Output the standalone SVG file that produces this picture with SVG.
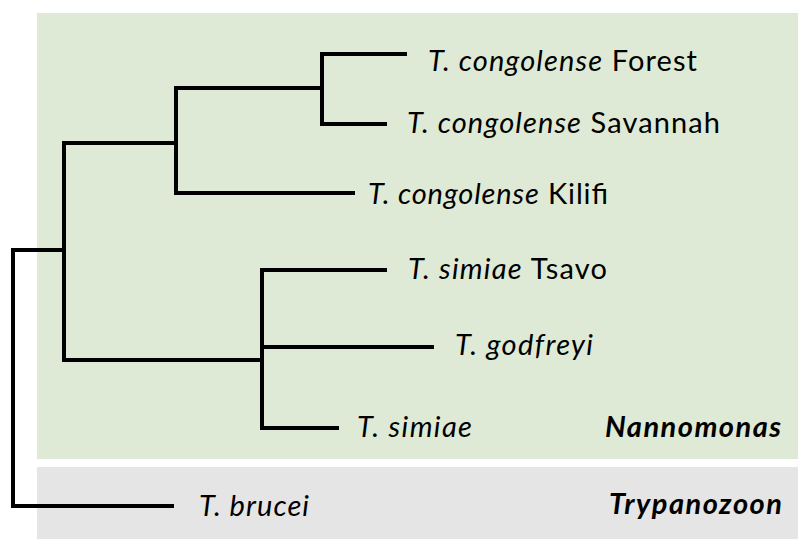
<svg xmlns="http://www.w3.org/2000/svg" width="798" height="539" viewBox="0 0 798 539">
<style>
.br{fill:none;stroke:#000;stroke-width:4;stroke-linecap:square;stroke-linejoin:miter}
.lab{font-family:Lato,"Liberation Sans",sans-serif;font-size:29px;fill:#000}
.it{font-style:italic}
.grp{font-family:Lato,"Liberation Sans",sans-serif;font-size:29px;font-weight:bold;font-style:italic;fill:#000}
</style>
<rect id="nannomonas-bg" x="37" y="13" width="761" height="446" fill="#DEEAD5"/>
<rect id="trypanozoon-bg" x="37" y="467" width="761" height="72" fill="#E5E5E5"/>
<g id="connectors">
<path class="br" d="M172,506 H13 V250 H64"/>
<path class="br" d="M176,143 H64 V360 H262"/>
<path class="br" d="M322,88 H176 V193 H353"/>
<path class="br" d="M405,54 H322 V124 H385"/>
<path class="br" d="M385,270 H262 V428 H337"/>
<path class="br" d="M262,347 H432"/>
</g>
<g id="forest"><text class="lab" x="428" y="71" textLength="269" lengthAdjust="spacing"><tspan class="it">T. congolense</tspan> Forest</text></g>
<g id="savannah"><text class="lab" x="407" y="133" textLength="313" lengthAdjust="spacing"><tspan class="it">T. congolense</tspan> Savannah</text></g>
<g id="kilifi"><text class="lab" x="368" y="204" textLength="240" lengthAdjust="spacing"><tspan class="it">T. congolense</tspan> Kilifi</text></g>
<g id="tsavo"><text class="lab" x="408" y="279" textLength="199" lengthAdjust="spacing"><tspan class="it">T. simiae</tspan> Tsavo</text></g>
<g id="godfreyi"><text class="lab it" x="455" y="355" textLength="138" lengthAdjust="spacing">T. godfreyi</text></g>
<g id="simiae"><text class="lab it" x="357" y="437" textLength="115" lengthAdjust="spacing">T. simiae</text></g>
<g id="brucei"><text class="lab it" x="199" y="516" textLength="110" lengthAdjust="spacing">T. brucei</text></g>
<g id="nannomonas"><text class="grp" x="605" y="437" textLength="176" lengthAdjust="spacing">Nannomonas</text></g>
<g id="trypanozoon"><text class="grp" x="609" y="514" textLength="173" lengthAdjust="spacing">Trypanozoon</text></g>
</svg>
